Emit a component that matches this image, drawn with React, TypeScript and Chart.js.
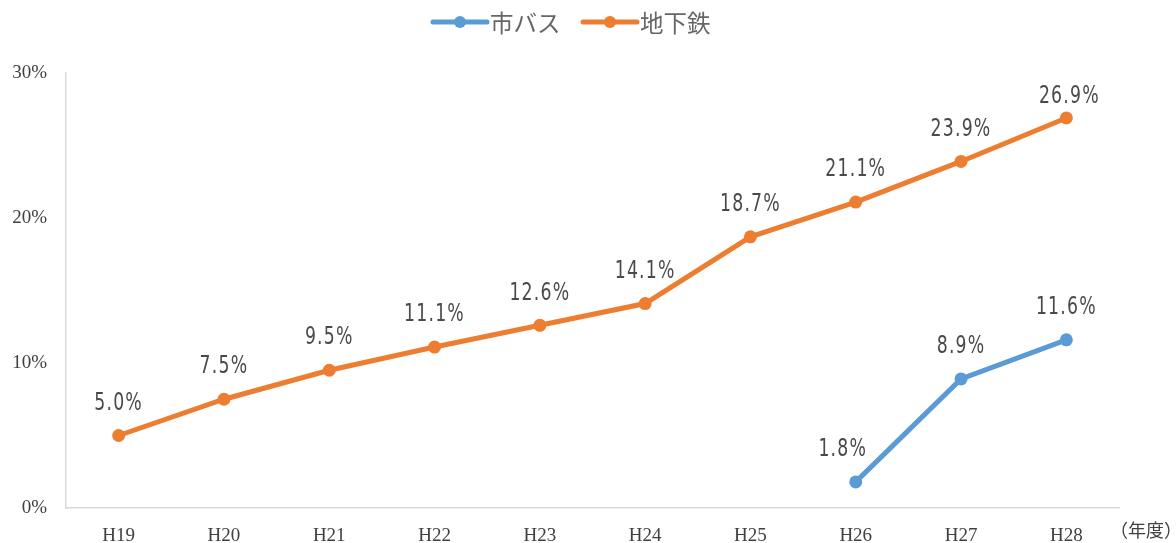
import React, { useEffect, useRef } from "react";
import { Chart, registerables } from "chart.js";

Chart.register(...registerables);

const categories = ["H19", "H20", "H21", "H22", "H23", "H24", "H25", "H26", "H27", "H28"];
const busValues: (number | null)[] = [null, null, null, null, null, null, null, 1.8, 8.9, 11.6];
const subwayValues: (number | null)[] = [5.0, 7.5, 9.5, 11.1, 12.6, 14.1, 18.7, 21.1, 23.9, 26.9];
const yTicks = [0, 10, 20, 30];
const seriesNames = ["市バス", "地下鉄"];
const seriesColors = ["#5B9BD5", "#ED7D31"];
const unitLabel = "（年度）";

const labelFont = "24px 'DejaVu Sans Condensed', 'DejaVu Sans', sans-serif";
const labelSqueeze = 0.8;

const overlayPlugin = {
  id: "overlay",
  afterDatasetsDraw(chart: any) {
    const ctx = chart.ctx;
    ctx.save();
    ctx.font = labelFont;
    ctx.fillStyle = "#4a4a4a";
    ctx.textAlign = "center";
    ctx.textBaseline = "middle";
    try { (ctx as any).letterSpacing = "1.5px"; } catch (e) {}
    chart.data.datasets.forEach((ds: any, i: number) => {
      const meta = chart.getDatasetMeta(i);
      meta.data.forEach((pt: any, j: number) => {
        const v = ds.data[j];
        if (v === null || v === undefined) return;
        let dx = 0;
        let dy = -32;
        if (i === 0 && j === 7) dx = -13;
        if (i === 1 && j === 9) { dy = -21; dx = 3; }
        ctx.save();
        ctx.translate(pt.x + dx, pt.y + dy);
        ctx.scale(labelSqueeze, 1);
        ctx.fillText(v.toFixed(1) + "%", 0, 0);
        ctx.restore();
      });
    });
    try { (ctx as any).letterSpacing = "0px"; } catch (e) {}
    // legend
    ctx.font = "23.5px 'Noto Sans CJK JP', sans-serif";
    ctx.textAlign = "left";
    const legendY = 22;
    const starts = [433, 583];
    seriesNames.forEach((name, i) => {
      const x0 = starts[i];
      ctx.strokeStyle = seriesColors[i];
      ctx.lineWidth = 5;
      ctx.lineCap = "round";
      ctx.beginPath();
      ctx.moveTo(x0, legendY);
      ctx.lineTo(x0 + 54, legendY);
      ctx.stroke();
      ctx.fillStyle = seriesColors[i];
      ctx.beginPath();
      ctx.arc(x0 + 27, legendY, 6, 0, Math.PI * 2);
      ctx.fill();
      ctx.fillStyle = "#666666";
      ctx.fillText(name, x0 + 57, legendY + 1);
    });
    // unit label
    ctx.font = "18px 'Noto Sans CJK JP', serif";
    ctx.fillStyle = "#404040";
    ctx.textAlign = "left";
    ctx.fillText(unitLabel, 1110, 530);
    ctx.restore();
  },
};

export default function App() {
  const ref = useRef<HTMLCanvasElement>(null);
  useEffect(() => {
    if (!ref.current) return;
    const chart = new Chart(ref.current, {
      type: "line",
      data: {
        labels: categories,
        datasets: [
          {
            label: seriesNames[0],
            data: busValues,
            borderColor: seriesColors[0],
            backgroundColor: seriesColors[0],
            borderWidth: 5,
            pointRadius: 6.5,
            pointBorderWidth: 0,
            pointBackgroundColor: seriesColors[0],
            tension: 0,
            spanGaps: false,
          },
          {
            label: seriesNames[1],
            data: subwayValues,
            borderColor: seriesColors[1],
            backgroundColor: seriesColors[1],
            borderWidth: 5,
            pointRadius: 6.5,
            pointBorderWidth: 0,
            pointBackgroundColor: seriesColors[1],
            tension: 0,
          },
        ],
      },
      options: {
        responsive: false,
        animation: false,
        layout: { padding: { top: 73, right: 57, left: 0, bottom: 0 } },
        plugins: {
          legend: { display: false },
          tooltip: { enabled: false },
        },
        scales: {
          x: {
            offset: true,
            grid: { display: false, drawTicks: false },
            border: { display: true, color: "#D9D9D9", width: 1.5 },
            ticks: {
              color: "#404040",
              font: { family: "'Liberation Serif', serif", size: 19 },
              padding: 17,
              maxRotation: 0,
            },
            afterFit(scale: any) {
              scale.height = 35;
            },
          },
          y: {
            min: 0,
            max: 30,
            afterBuildTicks(scale: any) {
              scale.ticks = yTicks.map((v) => ({ value: v }));
            },
            grid: { display: false, drawTicks: false },
            border: { display: true, color: "#D9D9D9", width: 1.5 },
            ticks: {
              color: "#404040",
              font: { family: "'Liberation Serif', serif", size: 19 },
              padding: 19,
              callback: (v: any) => v + "%",
            },
            afterFit(scale: any) {
              scale.width = 66;
            },
          },
        },
      },
      plugins: [overlayPlugin],
    });
    return () => chart.destroy();
  }, []);
  return (
    <div style={{ position: "absolute", left: 0, top: 0, width: 1176, height: 543, background: "#fff" }}>
      <canvas ref={ref} width={1176} height={543} />
    </div>
  );
}
